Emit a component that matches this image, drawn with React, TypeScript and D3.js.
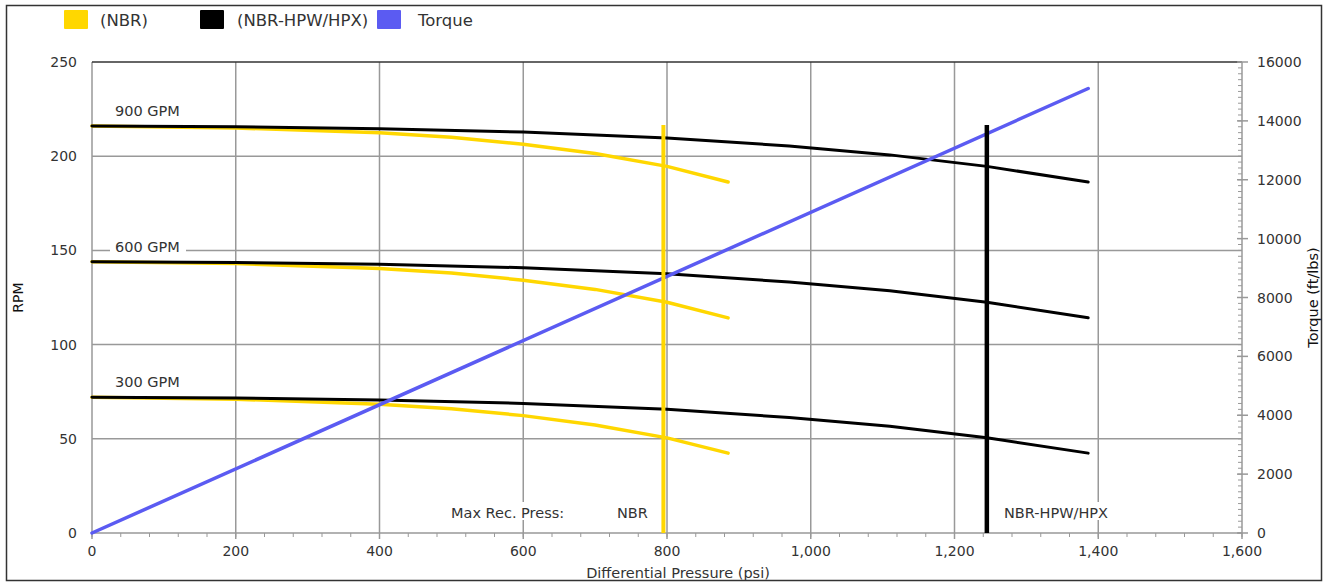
import React from "react";
import * as d3 from "d3";

const W = 1328;
const H = 584;

// Pressure samples (psi) and RPM values per curve
const hpwPressure = [0, 200, 400, 600, 800, 970, 1110, 1245, 1386];
const hpw900 = [216, 215.6, 214.6, 212.8, 209.7, 205.4, 200.7, 194.6, 186.3];
const hpw600 = [144, 143.6, 142.6, 140.8, 137.6, 133.2, 128.6, 122.5, 114.2];
const hpw300 = [72, 71.6, 70.6, 68.8, 65.7, 61.3, 56.7, 50.5, 42.4];

const nbrPressure = [0, 200, 400, 500, 600, 700, 800, 885];
const nbr900 = [216, 215, 212.4, 210, 206.3, 201.4, 194.6, 186.3];
const nbr600 = [144, 143, 140.4, 138, 134.2, 129.3, 122.5, 114.2];
const nbr300 = [72, 71, 68.4, 66, 62.3, 57.3, 50.5, 42.4];

const torquePressure = [0, 1386];
const torqueValues = [0, 15100];

const gpmLabels = ["900 GPM", "600 GPM", "300 GPM"];
const gpmLabelRpm = [216, 144, 72];

const nbrMaxPress = 795;
const hpwMaxPress = 1245;
const maxLineRpm = 216.5;

const xTicks = [0, 200, 400, 600, 800, 1000, 1200, 1400, 1600];
const yTicks = [0, 50, 100, 150, 200, 250];
const y2Ticks = [0, 2000, 4000, 6000, 8000, 10000, 12000, 14000, 16000];

const legendItems = [
  { label: "(NBR)", color: "#FFD700", x: 64, tx: 100 },
  { label: "(NBR-HPW/HPX)", color: "#000000", x: 200, tx: 237 },
  { label: "Torque", color: "#5B5BF2", x: 377, tx: 418 },
];

const FONT = "'DejaVu Sans', Verdana, sans-serif";

export default function App() {
  const left = 92, right = 1242, top = 62, bottom = 533;
  const x = d3.scaleLinear().domain([0, 1600]).range([left, right]);
  const y = d3.scaleLinear().domain([0, 250]).range([bottom, top]);
  const y2 = d3.scaleLinear().domain([0, 16000]).range([bottom, top]);

  const line = d3.line<[number, number]>().x((d) => x(d[0])).y((d) => y(d[1]));
  const tline = d3.line<[number, number]>().x((d) => x(d[0])).y((d) => y2(d[1]));

  const zip = (a: number[], b: number[]) => a.map((v, i) => [v, b[i]] as [number, number]);

  const grid = "#999";
  const textColor = "#333";

  const xMinor = d3.range(0, 1601, 40);
  const y2Minor = d3.range(0, 16001, 200);

  return (
    <svg width={W} height={H} style={{ position: "absolute", left: 0, top: 0 }} fontFamily={FONT}>
      <rect x={0} y={0} width={W} height={H} fill="#fff" />
      <rect x={6.5} y={5.5} width={1315} height={575} fill="none" stroke="#333" strokeWidth={1.5} />

      {/* legend */}
      {legendItems.map((l) => (
        <g key={l.label}>
          <rect x={l.x} y={10} width={24} height={19} fill={l.color} rx={1} />
          <text x={l.tx} y={26} fontSize={16.5} fill={textColor}>{l.label}</text>
        </g>
      ))}

      {/* grid */}
      {xTicks.slice(1, -1).map((t) => (
        <line key={"gx" + t} x1={x(t)} x2={x(t)} y1={top} y2={bottom} stroke={grid} strokeWidth={1.5} />
      ))}
      {yTicks.slice(1, -1).map((t) => (
        <line key={"gy" + t} x1={left} x2={right} y1={y(t)} y2={y(t)} stroke={grid} strokeWidth={1.5} />
      ))}

      {/* axes */}
      <line x1={left} x2={left} y1={top} y2={bottom} stroke={grid} strokeWidth={1.5} />
      <line x1={left} x2={right} y1={top} y2={top} stroke="#333" strokeWidth={1.5} />
      <line x1={right} x2={right} y1={top} y2={bottom} stroke={grid} strokeWidth={1.5} />
      <line x1={left} x2={right} y1={bottom} y2={bottom} stroke={grid} strokeWidth={1.5} />

      {xMinor.map((t) => (
        <line key={"xm" + t} x1={x(t)} x2={x(t)} y1={bottom} y2={bottom + 4} stroke={grid} strokeWidth={1} />
      ))}
      {xTicks.map((t) => (
        <line key={"xM" + t} x1={x(t)} x2={x(t)} y1={bottom} y2={bottom + 6} stroke={grid} strokeWidth={1.5} />
      ))}
      {y2Minor.map((t) => (
        <line key={"ym" + t} x1={right - 4} x2={right} y1={y2(t)} y2={y2(t)} stroke={grid} strokeWidth={1} />
      ))}
      {y2Ticks.map((t) => (
        <line key={"yM" + t} x1={right - 5} x2={right + 6} y1={y2(t)} y2={y2(t)} stroke={grid} strokeWidth={1.5} />
      ))}

      {/* tick labels */}
      {xTicks.map((t) => (
        <text key={"xl" + t} x={x(t)} y={bottom + 23} fontSize={14} textAnchor="middle" fill={textColor}>
          {d3.format(",")(t)}
        </text>
      ))}
      {yTicks.map((t) => (
        <text key={"yl" + t} x={77} y={y(t) + 5} fontSize={14} textAnchor="end" fill={textColor}>
          {t}
        </text>
      ))}
      {y2Ticks.map((t) => (
        <text key={"y2l" + t} x={1257} y={y2(t) + 5} fontSize={14} textAnchor="start" fill={textColor}>
          {t}
        </text>
      ))}

      {/* axis titles */}
      <text transform={`translate(23,${(top + bottom) / 2}) rotate(-90)`} fontSize={14} textAnchor="middle" fill="#111">RPM</text>
      <text transform={`translate(1318,${(top + bottom) / 2}) rotate(-90)`} fontSize={14.5} textAnchor="middle" fill="#111">Torque (ft/lbs)</text>
      <text x={678} y={578} fontSize={14.5} textAnchor="middle" fill="#333">Differential Pressure (psi)</text>

      {/* GPM labels with white background */}
      {gpmLabels.map((l, i) => (
        <g key={l}>
          <rect x={110} y={y(gpmLabelRpm[i]) - 25} width={76} height={18} fill="#fff" />
          <text x={115} y={y(gpmLabelRpm[i]) - 10} fontSize={14.5} fill={textColor}>{l}</text>
        </g>
      ))}

      {/* max rec press labels */}
      <rect x={448} y={502} width={122} height={18} fill="#fff" />
      <text x={451} y={518} fontSize={14.5} fill={textColor}>Max Rec. Press:</text>
      <text x={617} y={518} fontSize={14.5} fill={textColor}>NBR</text>
      <rect x={1001} y={502} width={114} height={18} fill="#fff" />
      <text x={1004} y={518} fontSize={14.5} fill={textColor}>NBR-HPW/HPX</text>

      {/* NBR curves */}
      {[nbr900, nbr600, nbr300].map((s, i) => (
        <path key={"n" + i} d={line(zip(nbrPressure, s)) || ""} fill="none" stroke="#FFD700" strokeWidth={3.5} strokeLinecap="round" strokeLinejoin="round" />
      ))}
      {/* HPW curves */}
      {[hpw900, hpw600, hpw300].map((s, i) => (
        <path key={"h" + i} d={line(zip(hpwPressure, s)) || ""} fill="none" stroke="#000" strokeWidth={3} strokeLinecap="round" strokeLinejoin="round" />
      ))}

      {/* Torque */}
      <path d={tline(zip(torquePressure, torqueValues)) || ""} fill="none" stroke="#5B5BF2" strokeWidth={3.5} strokeLinecap="round" />

      {/* max pressure verticals */}
      <line x1={x(nbrMaxPress)} x2={x(nbrMaxPress)} y1={y(0)} y2={y(maxLineRpm)} stroke="#FFD700" strokeWidth={4} />
      <line x1={x(hpwMaxPress)} x2={x(hpwMaxPress)} y1={y(0)} y2={y(maxLineRpm)} stroke="#000" strokeWidth={4.5} />
    </svg>
  );
}
